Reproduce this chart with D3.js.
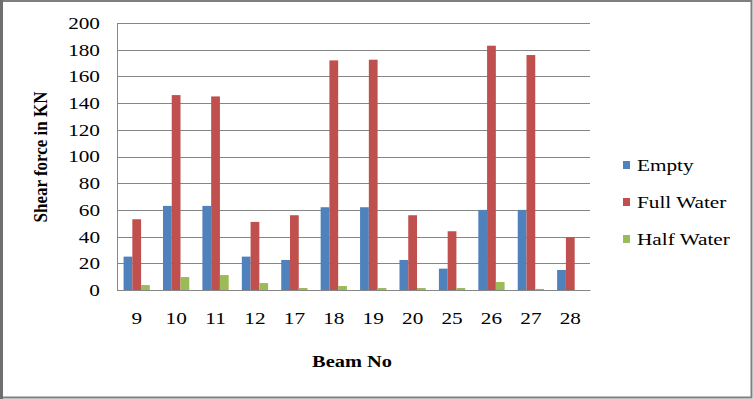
<!DOCTYPE html>
<html><head><meta charset="utf-8">
<script src="https://cdn.jsdelivr.net/npm/d3@7/dist/d3.min.js"></script>
<style>html,body{margin:0;padding:0;background:#fff;}svg{display:block;}</style>
</head><body>
<script>
const categories = ["9","10","11","12","17","18","19","20","25","26","27","28"];
const seriesNames = ["Empty","Full Water","Half Water"];
const empty = [25,63,63,25,22.5,62,62,22.5,16,60,60,15];
const fullWater = [53,146,145,51,56,172,172.5,56,44,183,176,39.5];
const halfWater = [3.7,9.7,11.2,5.2,1.5,3,1.5,1.5,1.5,6,0.8,0];
const yTicks = [0,20,40,60,80,100,120,140,160,180,200];
const colors = ["#4F81BD","#C0504D","#9BBB59"];

(function(){
const W = 753, H = 399, SX = 1.25;
const FONT = "'Liberation Serif', 'Times New Roman', serif";
const svg = d3.select("body").append("svg").attr("width", W).attr("height", H);
svg.append("rect").attr("x",1).attr("y",1).attr("width",W-2.5).attr("height",H-2.5)
  .attr("fill","#fff").attr("stroke","#7f7f7f").attr("stroke-width",2);
svg.append("rect").attr("x",0).attr("y",0).attr("width",3).attr("height",H).attr("fill","#6f6f6f");

const mLeft = 117, mRight = 590, mTop = 23, mBottom = 290;
const x = d3.scaleBand().domain(categories).range([mLeft, mRight]).paddingInner(1.5/4.5).paddingOuter(0.75/4.5);
const x1 = d3.scaleBand().domain(seriesNames).range([0, x.bandwidth()]);
const y = d3.scaleLinear().domain([0,200]).range([mBottom, mTop]);

const g = svg.append("g");
g.selectAll("line.grid").data(yTicks).join("line")
  .attr("x1", mLeft).attr("x2", mRight)
  .attr("y1", d => Math.round(y(d))+0.5).attr("y2", d => Math.round(y(d))+0.5)
  .attr("stroke", "#868686").attr("stroke-width", 1);

const yAxis = d3.axisLeft(y).tickValues(yTicks).tickSize(0).tickPadding(17);
const ya = svg.append("g").attr("transform", `translate(${mLeft},0)`).call(yAxis);
ya.attr("font-family", FONT);
ya.select(".domain").attr("stroke","#868686");
ya.selectAll("text").attr("font-family",FONT).attr("font-size","17px").attr("fill","#000")
  .attr("x", -17/SX).attr("transform", `scale(${SX},1)`);

const data = [empty, fullWater, halfWater];
seriesNames.forEach((s, si) => {
  svg.append("g").selectAll("rect").data(categories).join("rect")
    .attr("x", c => x(c) + x1(s))
    .attr("width", x1.bandwidth())
    .attr("y", (c,i) => y(data[si][i]))
    .attr("height", (c,i) => mBottom - y(data[si][i]))
    .attr("fill", colors[si]);
});

const xAxis = d3.axisBottom(x).tickSize(0).tickPadding(22);
const xa = svg.append("g").attr("transform", `translate(0,${mBottom})`).call(xAxis);
xa.attr("font-family", FONT);
xa.select(".domain").attr("stroke","#868686");
xa.selectAll("text").attr("font-family",FONT).attr("font-size","17px").attr("fill","#000")
  .attr("transform", `scale(${SX},1)`);

svg.append("g").attr("transform","translate(352,367)")
  .append("text").attr("text-anchor","middle").attr("transform","scale(1.2,1)")
  .attr("font-family",FONT).attr("font-weight","bold").attr("font-size","17px")
  .text("Beam No");
svg.append("text").attr("transform","translate(47,157) rotate(-90) scale(1,1.15)").attr("text-anchor","middle")
  .attr("font-family",FONT).attr("font-weight","bold").attr("font-size","17px")
  .text("Shear force in KN");

const lg = svg.append("g");
seriesNames.forEach((s, i) => {
  const cy = 165 + i*37;
  lg.append("rect").attr("x", 623).attr("y", cy-4).attr("width", 7).attr("height", 8).attr("fill", colors[i]);
  lg.append("g").attr("transform", `translate(637,${cy+6})`)
    .append("text").attr("transform", `scale(${SX},1)`).attr("font-family",FONT)
    .attr("font-size","17px").attr("fill","#000").text(s);
});
})();
</script>
</body></html>
